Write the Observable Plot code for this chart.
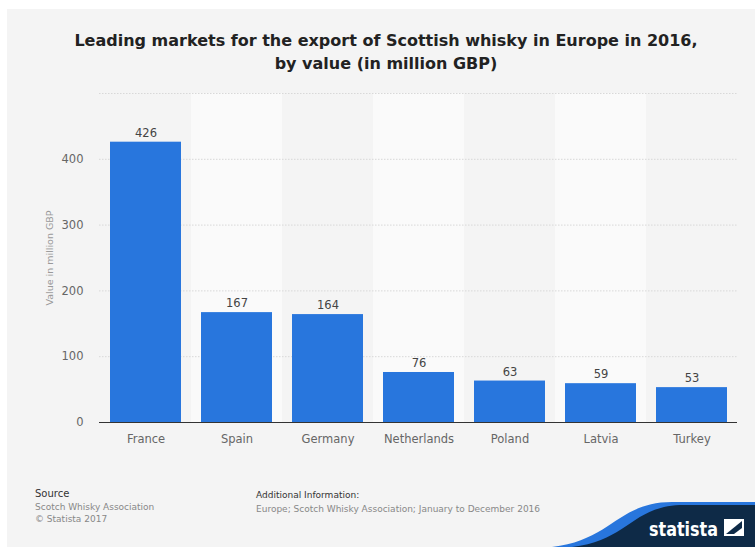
<!DOCTYPE html>
<html>
<head>
<meta charset="utf-8">
<script src="https://cdn.jsdelivr.net/npm/d3@7"></script>
<script src="https://cdn.jsdelivr.net/npm/@observablehq/plot@0.6"></script>
<style>
  html, body { margin: 0; padding: 0; background: #ffffff; }
  body { width: 755px; height: 547px; position: relative; overflow: hidden; font-family: "DejaVu Sans", sans-serif; }
  #bg { position: absolute; left: 7px; top: 9px; width: 748px; height: 538px; background: #f4f4f4; }
  #title { position: absolute; left: 0px; width: 772px; top: 29px; text-align: center; font-weight: bold; font-size: 16px; line-height: 23px; color: #222; }
  #chart { position: absolute; left: 0; top: 0; }
  .foot { position: absolute; font-size: 9px; line-height: 12px; }
  #logo { position: absolute; left: 0; top: 0; }
</style>
</head>
<body>
<div id="bg"></div>
<div id="title">Leading markets for the export of Scottish whisky in Europe in 2016,<br>by value (in million GBP)</div>
<div id="chart"></div>
<div class="foot" style="left:35px; top:488px; color:#333; font-size:10px;">Source</div>
<div class="foot" style="left:35px; top:501px; color:#888;">Scotch Whisky Association<br>© Statista 2017</div>
<div class="foot" style="left:256px; top:489px; color:#333;">Additional Information:</div>
<div class="foot" style="left:256px; top:503px; color:#888;">Europe; Scotch Whisky Association; January to December 2016</div>
<svg id="logo" width="755" height="547">
  <path d="M552,547 C612,540 618,502 672,502 L755,502 L755,547 Z" fill="#2876dd"/>
  <path d="M572,547 C628,541 632,505 684,505 L755,505 L755,547 Z" fill="#0e2a47"/>
  <text x="649" y="536" fill="#ffffff" font-family="DejaVu Sans" font-weight="bold" font-size="20" textLength="69" lengthAdjust="spacingAndGlyphs">statista</text>
  <rect x="724" y="519" width="20" height="17" fill="#ffffff"/>
  <path d="M726,534 L742,521 L742,528 L734,534 Z" fill="#0e2a47"/>
</svg>
<script>
const countries = ["France", "Spain", "Germany", "Netherlands", "Poland", "Latvia", "Turkey"];
const values = [426, 167, 164, 76, 63, 59, 53];
const yTicks = [0, 100, 200, 300, 400];
const gridTicks = [100, 200, 300, 400, 500];
const lightBands = ["Spain", "Netherlands", "Latvia"];

const data = countries.map((c, i) => ({country: c, value: values[i]}));

const chart = Plot.plot({
  width: 755,
  height: 460,
  marginLeft: 99,
  marginRight: 18,
  marginTop: 93,
  marginBottom: 38,
  style: {background: "transparent", fontFamily: "DejaVu Sans, sans-serif", fontSize: "11px", color: "#666"},
  x: {domain: countries, padding: 0, label: null},
  y: {domain: [0, 500], label: null},
  marks: [
    Plot.cell(lightBands, {x: d => d, fill: "#fafafa"}),
    Plot.gridY(gridTicks, {stroke: "#d8d8d8", strokeOpacity: 1, strokeDasharray: "1.5,1.5"}),
    Plot.axisY(yTicks, {tickSize: 0, tickPadding: 16, fill: "#666", fontSize: 11.5, label: null}),
    Plot.axisX({tickSize: 0, tickPadding: 12, fill: "#666", fontSize: 11.5, label: null}),
    Plot.barY(data, {x: "country", y: "value", fill: "#2876dd", insetLeft: 10, insetRight: 10}),
    Plot.ruleY([0], {stroke: "#333", strokeWidth: 1}),
    Plot.text(data, {x: "country", y: "value", text: d => String(d.value), dy: -9, fill: "#444", fontSize: 11.5}),
    Plot.text(["Value in million GBP"], {frameAnchor: "left", textAnchor: "middle", rotate: -90, dx: -50, fill: "#999", fontSize: 9.5})
  ]
});
document.getElementById("chart").appendChild(chart);
</script>
</body>
</html>
